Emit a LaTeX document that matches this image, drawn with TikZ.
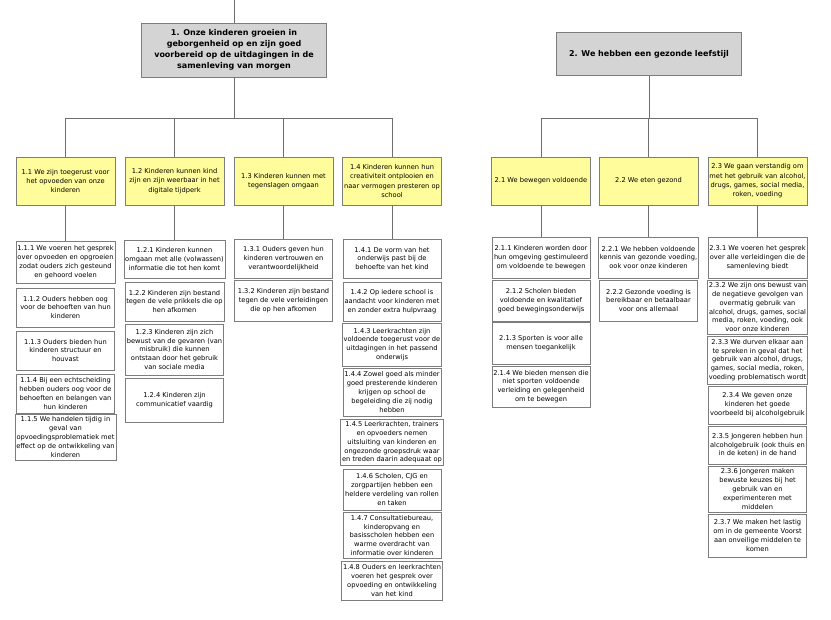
\documentclass[tikz,border=0pt]{standalone}
\usepackage{fontspec}
\setmainfont{DejaVu Sans}
\usepackage{tikz}

\definecolor{boxgray}{RGB}{212,212,212}
\definecolor{boxyellow}{RGB}{255,252,155}
\definecolor{edgegray}{RGB}{125,125,125}
\definecolor{linegray}{RGB}{110,110,110}

\tikzset{
  conn/.style={draw=linegray, line width=0.5pt},
  goal/.style={draw=edgegray, fill=boxgray, align=center, inner sep=1pt,
    minimum width=139pt, font=\fontsize{6}{8.25}\selectfont\bfseries},
  theme/.style={draw=edgegray, fill=boxyellow, align=center, inner sep=1pt,
    minimum width=74.25pt, minimum height=36pt, font=\fontsize{5}{7}\selectfont},
  leaf/.style={draw=edgegray, fill=white, align=center, inner sep=1pt,
    minimum width=73.5pt, font=\fontsize{5}{6.6}\selectfont}
}

\begin{document}
\begin{tikzpicture}[x=0.75pt,y=0.75pt,yscale=-1,xscale=1]
        \useasboundingbox (0,0) rectangle (831,620);

        %Coordinates: top end and buses
        \coordinate (root1) at (234,0);
        \coordinate (bus1) at (234,118);
        \coordinate (bus2) at (649,118);

        % Goal 1
        \node (g1) [goal, minimum height=40.5pt] at (234,50) {1. Onze kinderen groeien in\\geborgenheid op en zijn goed\\voorbereid op de uitdagingen in de\\samenleving van morgen};
        % Goal 2
        \node (g2) [goal, minimum height=32.25pt] at (649,54) {2. We hebben een gezonde leefstijl};

        % Themes of goal 1
        \node (t11) [theme] at (65.5,181) {1.1 We zijn toegerust voor\\het opvoeden van onze\\kinderen};
        \node (t12) [theme] at (174.5,181) {1.2 Kinderen kunnen kind\\zijn en zijn weerbaar in het\\digitale tijdperk};
        \node (t13) [theme] at (283.5,181) {1.3 Kinderen kunnen met\\tegenslagen omgaan};
        \node (t14) [theme] at (392,181) {1.4 Kinderen kunnen hun\\creativiteit ontplooien en\\naar vermogen presteren op\\school};
        % Themes of goal 2
        \node (t21) [theme] at (541,181) {2.1 We bewegen voldoende};
        \node (t22) [theme] at (648.5,181) {2.2 We eten gezond};
        \node (t23) [theme] at (757.5,181) {2.3 We gaan verstandig om\\met het gebruik van alcohol,\\drugs, games, social media,\\roken, voeding};

        % Leaves 1.1
        \node (l111) [leaf, minimum height=31.5pt] at (65.5,262) {1.1.1 We voeren het gesprek\\over opvoeden en opgroeien\\zodat ouders zich gesteund\\en gehoord voelen};
        \node (l112) [leaf, minimum height=29.25pt] at (65.5,307.5) {1.1.2 Ouders hebben oog\\voor de behoeften van hun\\kinderen};
        \node (l113) [leaf, minimum height=29.25pt] at (65.5,350.5) {1.1.3 Ouders bieden hun\\kinderen structuur en\\houvast};
        \node (l114) [leaf, minimum height=29.25pt] at (65.5,393.5) {1.1.4 Bij een echtscheiding\\hebben ouders oog voor de\\behoeften en belangen van\\hun kinderen};
        \node (l115) [leaf, minimum height=34.5pt] at (65.5,437) {1.1.5 We handelen tijdig in\\geval van\\opvoedingsproblematiek met\\effect op de ontwikkeling van\\kinderen};

        % Leaves 1.2
        \node (l121) [leaf, minimum height=28.5pt] at (174.5,259) {1.2.1 Kinderen kunnen\\omgaan met alle (volwassen)\\informatie die tot hen komt};
        \node (l122) [leaf, minimum height=29.25pt] at (174.5,301.5) {1.2.2 Kinderen zijn bestand\\tegen de vele prikkels die op\\hen afkomen};
        \node (l123) [leaf, minimum height=38.25pt] at (174.5,349.5) {1.2.3 Kinderen zijn zich\\bewust van de gevaren (van\\misbruik) die kunnen\\ontstaan door het gebruik\\van sociale media};
        \node (l124) [leaf, minimum height=33pt] at (174.5,400) {1.2.4 Kinderen zijn\\communicatief vaardig};

        % Leaves 1.3
        \node (l131) [leaf, minimum height=29.25pt] at (283.5,258.5) {1.3.1 Ouders geven hun\\kinderen vertrouwen en\\verantwoordelijkheid};
        \node (l132) [leaf, minimum height=30.75pt] at (283.5,300.5) {1.3.2 Kinderen zijn bestand\\tegen de vele verleidingen\\die op hen afkomen};

        % Leaves 1.4
        \node (l141) [leaf, minimum height=29.25pt] at (392,258.5) {1.4.1 De vorm van het\\onderwijs past bij de\\behoefte van het kind};
        \node (l142) [leaf, minimum height=29.25pt] at (392,301.5) {1.4.2 Op iedere school is\\aandacht voor kinderen met\\en zonder extra hulpvraag};
        \node (l143) [leaf, minimum height=32.25pt] at (392,344.5) {1.4.3 Leerkrachten zijn\\voldoende toegerust voor de\\uitdagingen in het passend\\onderwijs};
        \node (l144) [leaf, minimum height=36pt] at (392,392) {1.4.4 Zowel goed als minder\\goed presterende kinderen\\krijgen op school de\\begeleiding die zij nodig\\hebben};
        \node (l145) [leaf, minimum height=34.5pt] at (392,442.5) {1.4.5 Leerkrachten, trainers\\en opvoeders nemen\\uitsluiting van kinderen en\\ongezonde groepsdruk waar\\en treden daarin adequaat op};
        \node (l146) [leaf, minimum height=30.75pt] at (392,489.5) {1.4.6 Scholen, CJG en\\zorgpartijen hebben een\\heldere verdeling van rollen\\en taken};
        \node (l147) [leaf, minimum height=34.5pt] at (392,535.5) {1.4.7 Consultatiebureau,\\kinderopvang en\\basisscholen hebben een\\warme overdracht van\\informatie over kinderen};
        \node (l148) [leaf, minimum height=29.25pt] at (392,580.5) {1.4.8 Ouders en leerkrachten\\voeren het gesprek over\\opvoeding en ontwikkeling\\van het kind};

        % Leaves 2.1
        \node (l211) [leaf, minimum height=30.75pt] at (541,257.5) {2.1.1 Kinderen worden door\\hun omgeving gestimuleerd\\om voldoende te bewegen};
        \node (l212) [leaf, minimum height=30.75pt] at (541,300.5) {2.1.2 Scholen bieden\\voldoende en kwalitatief\\goed bewegingsonderwijs};
        \node (l213) [leaf, minimum height=31.5pt] at (541,343) {2.1.3 Sporten is voor alle\\mensen toegankelijk};
        \node (l214) [leaf, minimum height=30.75pt] at (541,386.5) {2.1.4 We bieden mensen die\\niet sporten voldoende\\verleiding en gelegenheid\\om te bewegen};

        % Leaves 2.2
        \node (l221) [leaf, minimum height=30.75pt] at (648.5,257.5) {2.2.1 We hebben voldoende\\kennis van gezonde voeding,\\ook voor onze kinderen};
        \node (l222) [leaf, minimum height=30.75pt] at (648.5,300.5) {2.2.2 Gezonde voeding is\\bereikbaar en betaalbaar\\voor ons allemaal};

        % Leaves 2.3
        \node (l231) [leaf, minimum height=30.75pt] at (757.5,257.5) {2.3.1 We voeren het gesprek\\over alle verleidingen die de\\samenleving biedt};
        \node (l232) [leaf, minimum height=41pt] at (757.5,307.3) {2.3.2 We zijn ons bewust van\\de negatieve gevolgen van\\overmatig gebruik van\\alcohol, drugs, games, social\\media, roken, voeding, ook\\voor onze kinderen};
        \node (l233) [leaf, minimum height=36pt] at (757.5,360) {2.3.3 We durven elkaar aan\\te spreken in geval dat het\\gebruik van alcohol, drugs,\\games, social media, roken,\\voeding problematisch wordt};
        \node (l234) [leaf, minimum height=28.5pt] at (757.5,405) {2.3.4 We geven onze\\kinderen het goede\\voorbeeld bij alcoholgebruik};
        \node (l235) [leaf, minimum height=28.5pt] at (757.5,445) {2.3.5 Jongeren hebben hun\\alcoholgebruik (ook thuis en\\in de keten) in de hand};
        \node (l236) [leaf, minimum height=34.5pt] at (757.5,489) {2.3.6 Jongeren maken\\bewuste keuzes bij het\\gebruik van en\\experimenteren met\\middelen};
        \node (l237) [leaf, minimum height=32.25pt] at (757.5,535.5) {2.3.7 We maken het lastig\\om in de gemeente Voorst\\aan onveilige middelen te\\komen};

        %Straight Lines: goals to buses
        \draw [conn] (root1) -- (g1.north);
        \draw [conn] (g1.south) -- (bus1);
        \draw [conn] (g2.south) -- (bus2);
        \draw [conn] (t11.north) |- (bus1);
        \draw [conn] (t12.north) |- (bus1);
        \draw [conn] (t13.north) |- (bus1);
        \draw [conn] (t14.north) |- (bus1);
        \draw [conn] (t21.north) |- (bus2);
        \draw [conn] (t22.north) |- (bus2);
        \draw [conn] (t23.north) |- (bus2);
        %Straight Lines: themes to first leaves
        \draw [conn] (t11.south) -- (l111.north);
        \draw [conn] (t12.south) -- (l121.north);
        \draw [conn] (t13.south) -- (l131.north);
        \draw [conn] (t14.south) -- (l141.north);
        \draw [conn] (t21.south) -- (l211.north);
        \draw [conn] (t22.south) -- (l221.north);
        \draw [conn] (t23.south) -- (l231.north);

\end{tikzpicture}
\end{document}
